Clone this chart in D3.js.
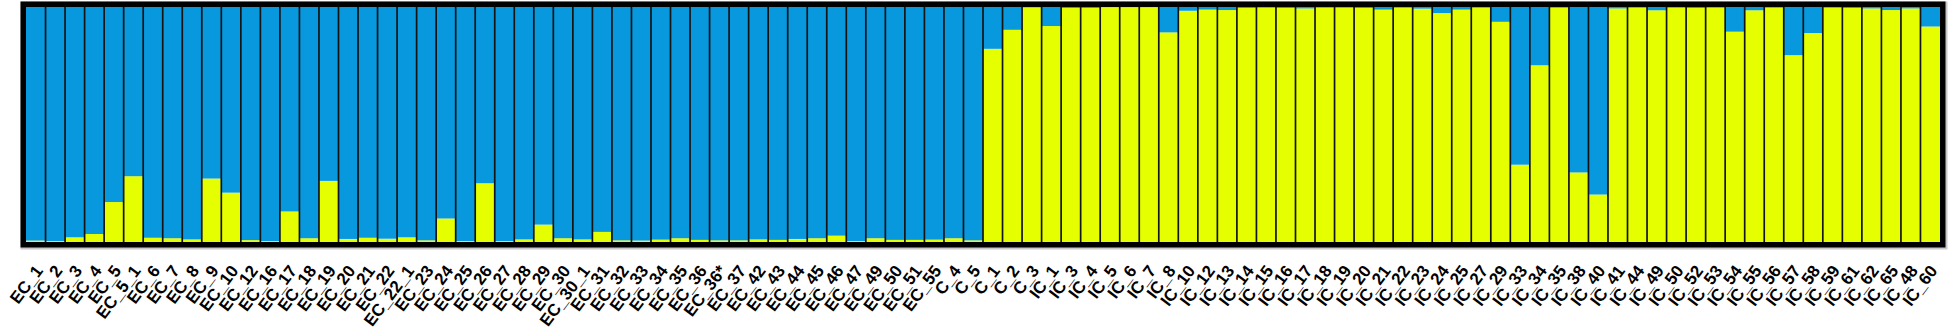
<!DOCTYPE html>
<html>
<head>
<meta charset="utf-8">
<script src="https://cdn.jsdelivr.net/npm/d3@7"></script>
<style>
html,body{margin:0;padding:0;background:#fff;}
svg{display:block;}
</style>
</head>
<body>
<svg id="chart" width="1949" height="334"></svg>
<script>
const samples = [
 "EC_1","EC_2","EC_3","EC_4","EC_5","EC_5_1","EC_6","EC_7","EC_8","EC_9","EC_10","EC_12","EC_16","EC_17","EC_18","EC_19",
 "EC_20","EC_21","EC_22","EC_22_1","EC_23","EC_24","EC_25","EC_26","EC_27","EC_28","EC_29","EC_30","EC_30_1","EC_31","EC_32","EC_33",
 "EC_34","EC_35","EC_36","EC_36*","EC_37","EC_42","EC_43","EC_44","EC_45","EC_46","EC_47","EC_49","EC_50","EC_51","EC_55",
 "C_4","C_5","C_1","C_2","C_3",
 "IC_1","IC_3","IC_4","IC_5","IC_6","IC_7","IC_8","IC_10","IC_12","IC_13","IC_14","IC_15","IC_16","IC_17","IC_18","IC_19",
 "IC_20","IC_21","IC_22","IC_23","IC_24","IC_25","IC_27","IC_29","IC_33","IC_34","IC_35","IC_38","IC_40","IC_41","IC_44",
 "IC_49","IC_50","IC_52","IC_53","IC_54","IC_55","IC_56","IC_57","IC_58","IC_59","IC_61","IC_62","IC_65","IC_48","IC_60"
];
// membership in cluster 2 (yellow)
const clusterYellow = [
 0.006,0.004,0.020,0.034,0.170,0.280,0.018,0.016,0.011,0.270,0.210,0.008,0.004,0.130,0.016,0.260,
 0.013,0.018,0.014,0.020,0.007,0.100,0.004,0.250,0.004,0.011,0.074,0.016,0.011,0.043,0.007,0.006,
 0.010,0.016,0.009,0.007,0.007,0.011,0.009,0.013,0.016,0.027,0.004,0.016,0.009,0.009,0.010,
 0.016,0.007,0.822,0.903,0.998,
 0.919,0.996,0.996,0.999,0.999,0.999,0.892,0.984,0.989,0.987,0.996,0.997,0.996,0.994,0.997,0.997,
 0.996,0.989,0.997,0.993,0.974,0.989,0.997,0.937,0.329,0.752,0.997,0.296,0.202,0.994,0.997,
 0.986,0.997,0.996,0.997,0.895,0.986,0.997,0.795,0.889,0.997,0.996,0.994,0.987,0.994,0.917
];
// membership in cluster 1 (blue)
const clusterBlue = [
 0.994,0.996,0.980,0.966,0.830,0.720,0.982,0.984,0.989,0.730,0.790,0.992,0.996,0.870,0.984,0.740,
 0.987,0.982,0.986,0.980,0.993,0.900,0.996,0.750,0.996,0.989,0.926,0.984,0.989,0.957,0.993,0.994,
 0.990,0.984,0.991,0.993,0.993,0.989,0.991,0.987,0.984,0.973,0.996,0.984,0.991,0.991,0.990,
 0.984,0.993,0.178,0.097,0.002,
 0.081,0.004,0.004,0.001,0.001,0.001,0.108,0.016,0.011,0.013,0.004,0.003,0.004,0.006,0.003,0.003,
 0.004,0.011,0.003,0.007,0.026,0.011,0.003,0.063,0.671,0.248,0.003,0.704,0.798,0.006,0.003,
 0.014,0.003,0.004,0.003,0.105,0.014,0.003,0.205,0.111,0.003,0.004,0.006,0.013,0.006,0.083
];
const clusterNames = ["yellow","blue"];
const clusterColors = ["#e6ff00","#0898dd"];

const rows = samples.map((s,i)=>({sample:s, yellow:clusterYellow[i], blue:clusterBlue[i]}));
const stack = d3.stack().keys(clusterNames)(rows);

const svg = d3.select("#chart");
const x0 = 26, x1 = 1940, yTop = 7, yBot = 242;
const x = d3.scaleBand().domain(samples).range([x0,x1]).padding(0);
const y = d3.scaleLinear().domain([0,1]).range([yBot,yTop]);
const color = d3.scaleOrdinal().domain(clusterNames).range(clusterColors);

// shadow
svg.append("rect").attr("x",x0-5).attr("y",yTop-5).attr("width",x1-x0+10).attr("height",yBot-yTop+10)
  .attr("fill","none").attr("stroke","#c8c8c8").attr("stroke-width",3).attr("transform","translate(1,1)");

svg.append("g").selectAll("g").data(stack).join("g")
  .attr("fill", d=>color(d.key))
  .selectAll("rect").data(d=>d).join("rect")
  .attr("x", d=>x(d.data.sample))
  .attr("width", x.bandwidth())
  .attr("y", d=>y(Math.min(1,d[1])))
  .attr("height", d=>Math.max(0, y(d[0]) - y(Math.min(1,d[1]))));

// separators
svg.append("g").selectAll("line").data(samples.slice(1)).join("line")
  .attr("x1", d=>x(d)).attr("x2", d=>x(d))
  .attr("y1", yTop).attr("y2", yBot)
  .attr("stroke","#141414").attr("stroke-width",1.7);

// frame
svg.append("rect").attr("x",x0-2.75).attr("y",yTop-2.75).attr("width",x1-x0+5.5).attr("height",yBot-yTop+5.5)
  .attr("fill","none").attr("stroke","#000").attr("stroke-width",5.5);

// labels
const axis = d3.axisBottom(x).tickSize(0).tickPadding(0);
const gx = svg.append("g").attr("transform",`translate(0,${yBot})`).call(axis);
gx.select(".domain").remove();
gx.selectAll(".tick text")
  .attr("font-family","'Liberation Sans', Arial, sans-serif")
  .attr("font-weight","bold")
  .attr("font-size",17)
  .attr("fill","#000")
  .attr("text-anchor","end")
  .attr("dy",null).attr("y",0)
  .attr("transform","translate(8,29) rotate(-53)");
</script>
</body>
</html>
